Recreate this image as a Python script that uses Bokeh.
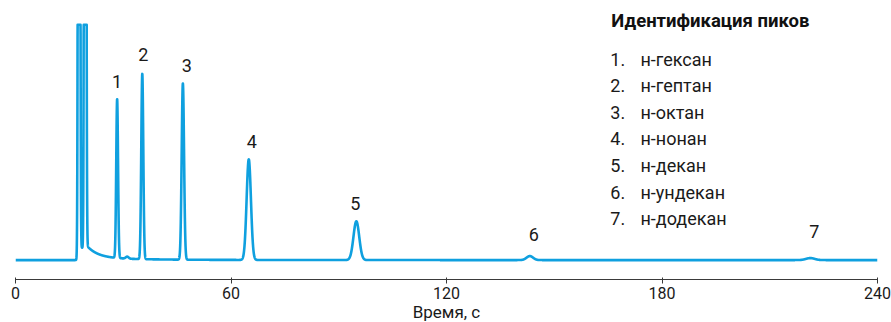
import numpy as np
from bokeh.plotting import figure
from bokeh.models import ColumnDataSource, FixedTicker, Range1d
from bokeh.core.properties import value
from bokeh.embed import file_html
from bokeh.resources import INLINE

# ---------------- data ----------------
# unlabelled solvent peaks (detector saturates) and the level between them
solvent_times = [17.7, 18.55, 19.4]
solvent_heights = [2000.0, 12.0, 2000.0]
solvent_sigmas = [0.20, 0.35, 0.20]
saturation = 235.0

# solvent tailing after the second solvent peak
tail_start = 19.6
tail_amps = [13.0, 2.5]
tail_taus = [3.0, 15.0]

# small unlabelled bump
minor_times = [31.1]
minor_heights = [2.0]
minor_sigmas = [0.4]

# identified peaks
peak_labels = ["1", "2", "3", "4", "5", "6", "7"]
peak_times = [28.3, 35.3, 46.6, 64.95, 94.9, 143.2, 221.3]
peak_heights = [158.5, 185.0, 176.0, 100.5, 38.7, 4.0, 2.0]
peak_sigmas = [0.25, 0.28, 0.33, 0.60, 0.80, 0.90, 1.20]

compound_names = ["н-гексан", "н-гептан", "н-октан", "н-нонан",
                  "н-декан", "н-ундекан", "н-додекан"]
legend_title = "Идентификация пиков"

x_ticks = [0, 60, 120, 180, 240]
x_label = "Время, с"

# ---------------- styles ----------------
FONT = "Roboto"
LINE_COLOR = "#0fa0df"
TEXT_COLOR = "#1a1a1a"
AXIS_COLOR = "#3a3a3a"
label_dx = [0, 1, 4, 3, -1, 4, 4]
label_dy = [-20, -20, -18, -18, -18, -22, -27]

# ---------------- build trace from peak parameters ----------------
t = np.arange(0.0, 240.0001, 0.02)
signal = np.zeros_like(t)
for tr, h, s in zip(solvent_times + minor_times + peak_times,
                    solvent_heights + minor_heights + peak_heights,
                    solvent_sigmas + minor_sigmas + peak_sigmas):
    signal += h * np.exp(-((t - tr) ** 2) / (2 * s * s))
after = t >= tail_start
for a, tau in zip(tail_amps, tail_taus):
    signal[after] += a * np.exp(-(t[after] - tail_start) / tau)
signal = np.minimum(signal, saturation)

p = figure(frame_width=862, frame_height=271,
           x_range=Range1d(0, 240), y_range=Range1d(-19.4, 251.3),
           output_backend="svg", toolbar_location=None,
           y_axis_location=None,
           min_border_left=15, min_border_right=14, min_border_top=8,
           min_border_bottom=0)
p.grid.visible = False
p.outline_line_color = None
p.background_fill_color = "white"
p.border_fill_color = "white"

p.line(t, signal, line_color=LINE_COLOR, line_width=2.6, line_join="round")

lab_src = ColumnDataSource(dict(x=peak_times, y=peak_heights, text=peak_labels,
                                dx=label_dx, dy=label_dy))
p.text(x="x", y="y", text="text", source=lab_src, x_offset="dx", y_offset="dy",
       text_align="center", text_baseline="middle",
       text_font=value(FONT), text_font_size="18px", text_color=TEXT_COLOR)

# legend block (peak identification)
leg_x_title = 165.9
leg_x_num = 165.6
leg_x_name = 174.0
leg_top = 200.7
leg_step = 26.57
leg_y = [leg_top - i * leg_step for i in range(len(compound_names))]
p.text(x=[leg_x_title], y=[239.0], text=[legend_title], text_align="left",
       text_baseline="middle", text_font=value(FONT), text_font_size="18.5px",
       text_font_style="bold", text_color="#111111")
p.text(x=[leg_x_num] * len(peak_labels), y=leg_y,
       text=[l + "." for l in peak_labels], text_align="left",
       text_baseline="middle", text_font=value(FONT), text_font_size="18px",
       text_color=TEXT_COLOR)
p.text(x=[leg_x_name] * len(compound_names), y=leg_y, text=compound_names,
       text_align="left", text_baseline="middle", text_font=value(FONT),
       text_font_size="18px", text_color=TEXT_COLOR)

ax = p.xaxis[0]
ax.ticker = FixedTicker(ticks=x_ticks)
ax.minor_tick_line_color = None
ax.major_tick_in = 2
ax.major_tick_out = 4
ax.axis_line_color = AXIS_COLOR
ax.major_tick_line_color = AXIS_COLOR
ax.major_label_standoff = 3
ax.major_label_text_font = FONT
ax.major_label_text_font_size = "16px"
ax.major_label_text_color = TEXT_COLOR
ax.axis_label = x_label
ax.axis_label_standoff = 0
ax.axis_label_text_font = FONT
ax.axis_label_text_font_size = "17px"
ax.axis_label_text_font_style = "normal"
ax.axis_label_text_color = TEXT_COLOR

open("out.html", "w").write(file_html(p, INLINE))
